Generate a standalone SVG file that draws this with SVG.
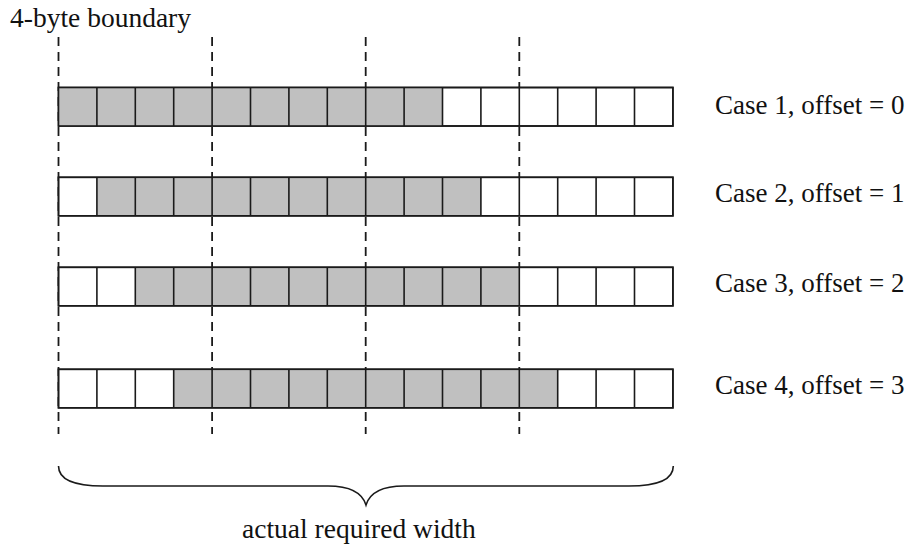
<svg xmlns="http://www.w3.org/2000/svg" width="913" height="554" viewBox="0 0 913 554">
<style>
.t{font-family:"Liberation Serif","Times New Roman",serif;fill:#111}
.c{stroke:#1a1a1a;stroke-width:1.6;fill:#fff}
.s{fill:#c0c0c0}
.d{stroke:#1a1a1a;stroke-width:1.8;stroke-dasharray:9,6;fill:none}
</style>
<defs>
<g id="row">
<rect class="c" x="0" y="0" width="38.4" height="38.5"/>
</g>
</defs>
<rect width="913" height="554" fill="#fff"/>
<text class="t" x="10" y="27" font-size="27.5">4-byte boundary</text>
<g id="boundaries">
<line class="d" x1="58.5" y1="37" x2="58.5" y2="434"/>
<line class="d" x1="212.1" y1="37" x2="212.1" y2="434"/>
<line class="d" x1="365.7" y1="37" x2="365.7" y2="434"/>
<line class="d" x1="519.3" y1="37" x2="519.3" y2="434"/>
</g>
<g id="case1" transform="translate(58.5,87.5)">
<rect class="c" x="0" y="0" width="614.4" height="38.5"/>
<rect class="s" x="0" y="0" width="384" height="38.5"/>
<path d="M38.4,0V38.5M76.8,0V38.5M115.2,0V38.5M153.6,0V38.5M192,0V38.5M230.4,0V38.5M268.8,0V38.5M307.2,0V38.5M345.6,0V38.5M384,0V38.5M422.4,0V38.5M460.8,0V38.5M499.2,0V38.5M537.6,0V38.5M576,0V38.5" stroke="#1a1a1a" stroke-width="1.6"/>
<rect x="0" y="0" width="614.4" height="38.5" fill="none" stroke="#1a1a1a" stroke-width="1.6"/>
</g>
<g id="case2" transform="translate(58.5,177.3)">
<rect class="c" x="0" y="0" width="614.4" height="38.5"/>
<rect class="s" x="38.4" y="0" width="384" height="38.5"/>
<path d="M38.4,0V38.5M76.8,0V38.5M115.2,0V38.5M153.6,0V38.5M192,0V38.5M230.4,0V38.5M268.8,0V38.5M307.2,0V38.5M345.6,0V38.5M384,0V38.5M422.4,0V38.5M460.8,0V38.5M499.2,0V38.5M537.6,0V38.5M576,0V38.5" stroke="#1a1a1a" stroke-width="1.6"/>
<rect x="0" y="0" width="614.4" height="38.5" fill="none" stroke="#1a1a1a" stroke-width="1.6"/>
</g>
<g id="case3" transform="translate(58.5,267.3)">
<rect class="c" x="0" y="0" width="614.4" height="38.5"/>
<rect class="s" x="76.8" y="0" width="384" height="38.5"/>
<path d="M38.4,0V38.5M76.8,0V38.5M115.2,0V38.5M153.6,0V38.5M192,0V38.5M230.4,0V38.5M268.8,0V38.5M307.2,0V38.5M345.6,0V38.5M384,0V38.5M422.4,0V38.5M460.8,0V38.5M499.2,0V38.5M537.6,0V38.5M576,0V38.5" stroke="#1a1a1a" stroke-width="1.6"/>
<rect x="0" y="0" width="614.4" height="38.5" fill="none" stroke="#1a1a1a" stroke-width="1.6"/>
</g>
<g id="case4" transform="translate(58.5,369.3)">
<rect class="c" x="0" y="0" width="614.4" height="38.5"/>
<rect class="s" x="115.2" y="0" width="384" height="38.5"/>
<path d="M38.4,0V38.5M76.8,0V38.5M115.2,0V38.5M153.6,0V38.5M192,0V38.5M230.4,0V38.5M268.8,0V38.5M307.2,0V38.5M345.6,0V38.5M384,0V38.5M422.4,0V38.5M460.8,0V38.5M499.2,0V38.5M537.6,0V38.5M576,0V38.5" stroke="#1a1a1a" stroke-width="1.6"/>
<rect x="0" y="0" width="614.4" height="38.5" fill="none" stroke="#1a1a1a" stroke-width="1.6"/>
</g>
<g id="labels">
<text class="t" x="715" y="114" font-size="27">Case 1, offset = 0</text>
<text class="t" x="715" y="202" font-size="27">Case 2, offset = 1</text>
<text class="t" x="715" y="292" font-size="27">Case 3, offset = 2</text>
<text class="t" x="715" y="394" font-size="27">Case 4, offset = 3</text>
</g>
<g id="brace">
<path d="M58.5,466 C58.5,480 75,486 103,486 L328,486 C350,486 362,492 366,505 C370,492 382,486 404,486 L629,486 C657,486 673.3,480 673.3,466" fill="none" stroke="#1a1a1a" stroke-width="1.6"/>
<text class="t" x="242" y="538" font-size="27.5">actual required width</text>
</g>
</svg>
